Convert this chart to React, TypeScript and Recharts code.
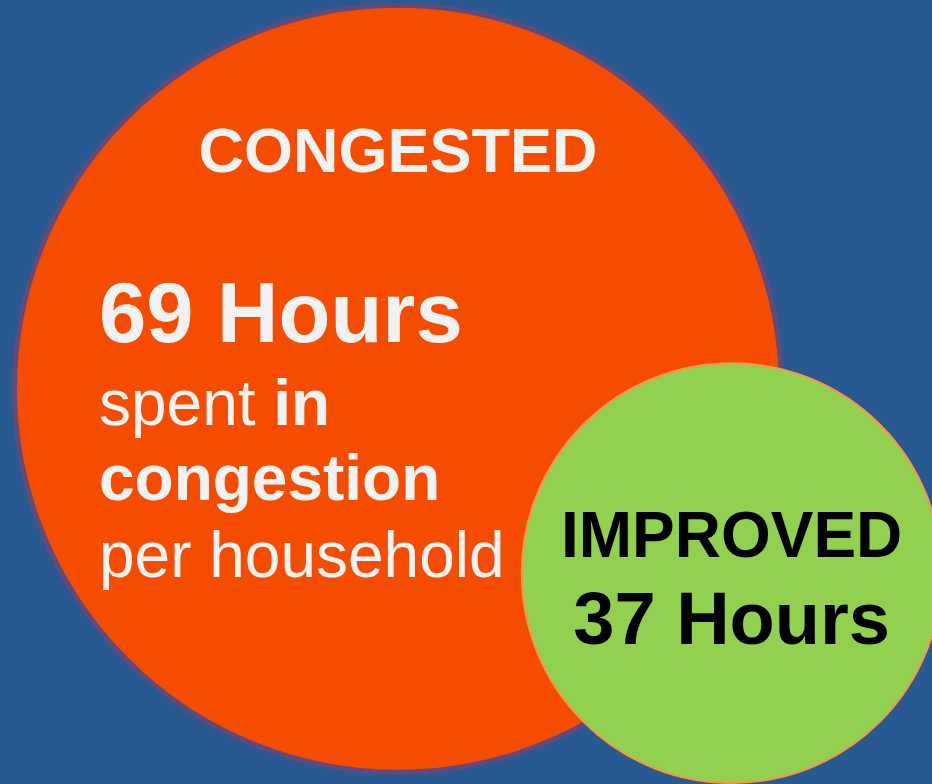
import React from 'react';
import { ScatterChart, Scatter, XAxis, YAxis, ZAxis } from 'recharts';

// two bubbles: hours spent in congestion per household
const bubbleLabels = ['CONGESTED', 'IMPROVED'];
const hoursPerHousehold = [69, 37];
// bubble centres on a 0-100 grid (x from left, y from bottom)
const bubbleX = [42.7, 78.5];
const bubbleY = [50.4, 26.9];

const rows = bubbleLabels.map((label, i) => ({
  label,
  hours: hoursPerHousehold[i],
  x: bubbleX[i],
  y: bubbleY[i],
}));

const W = 932;
const H = 784;
const FONT = '"Liberation Sans", Arial, Helvetica, sans-serif';

function Bubble(props: any): JSX.Element {
  const { cx, cy, size, payload } = props;
  const r = size;
  if (payload.label === 'CONGESTED') {
    const left = cx - 299;
    return (
      <g fontFamily={FONT} fill="#f2f2f2">
        <circle cx={cx} cy={cy} r={r + 2.5} fill="#f54c00" stroke="#5f4a7c" strokeWidth={5} />
        <text x={cx} y={cy - 217} textAnchor="middle" fontSize={63} fontWeight="bold">
          {payload.label}
        </text>
        <text x={left} y={cy - 47} fontSize={85} fontWeight="bold">
          {payload.hours} Hours
        </text>
        <text x={left} y={cy + 36} fontSize={64}>
          spent <tspan fontWeight="bold">in</tspan>
        </text>
        <text x={left} y={cy + 111} fontSize={64} fontWeight="bold">
          congestion
        </text>
        <text x={left} y={cy + 188} fontSize={64}>
          per household
        </text>
      </g>
    );
  }
  return (
    <g fontFamily={FONT} fill="#000">
      <circle cx={cx} cy={cy} r={r} fill="#92d050" stroke="#f79646" strokeWidth={2} />
      <text x={cx} y={cy - 16} textAnchor="middle" fontSize={64} fontWeight="bold">
        {payload.label}
      </text>
      <text x={cx} y={cy + 71} textAnchor="middle" fontSize={74} fontWeight="bold">
        {payload.hours} Hours
      </text>
    </g>
  );
}

export default function App(): JSX.Element {
  return (
    <div style={{ position: 'absolute', left: 0, top: 0, width: W, height: H, background: '#285a91', overflow: 'hidden' }}>
      <ScatterChart width={W} height={H} margin={{ top: 0, right: 0, bottom: 0, left: 0 }}>
        <XAxis type="number" dataKey="x" domain={[0, 100]} hide />
        <YAxis type="number" dataKey="y" domain={[0, 100]} hide />
        <ZAxis type="number" dataKey="hours" domain={[0, 69]} range={[12, 381]} />
        <Scatter data={rows} shape={(p: any) => <Bubble {...p} />} isAnimationActive={false} />
      </ScatterChart>
    </div>
  );
}
